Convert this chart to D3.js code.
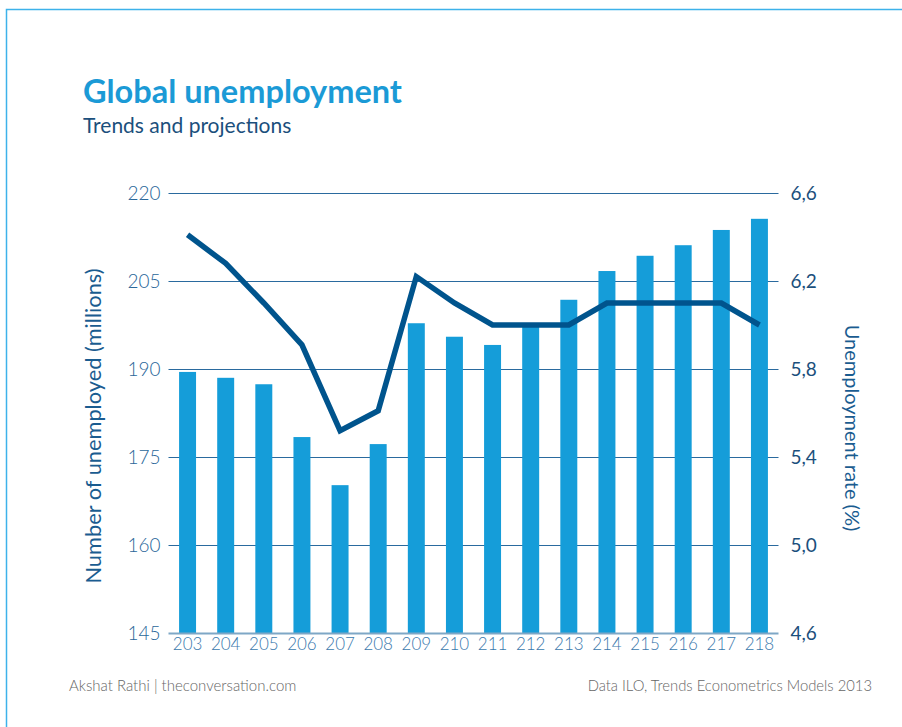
<!DOCTYPE html>
<html>
<head>
<meta charset="utf-8">
<script src="https://cdn.jsdelivr.net/npm/d3@7"></script>
<style>
  html, body { margin: 0; padding: 0; background: #fff; }
  svg { display: block; }
</style>
</head>
<body>
<script>
// ---- Data ----
const categories = ["203","204","205","206","207","208","209","210","211","212","213","214","215","216","217","218"];
const unemployedMillions = [189.5, 188.5, 187.4, 178.4, 170.2, 177.2, 197.8, 195.5, 194.1, 197.5, 201.8, 206.7, 209.3, 211.1, 213.7, 215.6];
const unemploymentRate = [6.41, 6.28, 6.1, 5.91, 5.52, 5.61, 6.22, 6.1, 6.0, 6.0, 6.0, 6.1, 6.1, 6.1, 6.1, 6.0];
const leftTicks = [145, 160, 175, 190, 205, 220];
const rightTicks = [4.6, 5.0, 5.4, 5.8, 6.2, 6.6];

const W = 902, H = 727;
const svg = d3.select("body").append("svg").attr("width", W).attr("height", H);

// frame
svg.append("rect").attr("x", 6.5).attr("y", 9.5).attr("width", 1000).attr("height", 1000)
  .attr("fill", "none").attr("stroke", "#3db2ea").attr("stroke-width", 1.5);

const plotLeft = 168.5, plotRight = 778.5, plotTop = 193, plotBottom = 633;

const x = d3.scaleBand().domain(categories).range([plotLeft, plotRight])
  .paddingInner(0.555).paddingOuter(0.2775);
const yL = d3.scaleLinear().domain([145, 220]).range([plotBottom, plotTop]);
const yR = d3.scaleLinear().domain([4.6, 6.6]).range([plotBottom, plotTop]);

const fontMain = "Lato, 'Open Sans', sans-serif";

// gridlines
svg.append("g").selectAll("line").data(leftTicks.filter(d => d !== 145)).join("line")
  .attr("x1", plotLeft).attr("x2", plotRight)
  .attr("y1", d => Math.round(yL(d)) + 0.5).attr("y2", d => Math.round(yL(d)) + 0.5)
  .attr("stroke", "#2a6a9e").attr("stroke-width", 1.2);

// bars
svg.append("g").selectAll("rect").data(categories).join("rect")
  .attr("x", d => x(d))
  .attr("width", x.bandwidth())
  .attr("y", (d, i) => yL(unemployedMillions[i]))
  .attr("height", (d, i) => yL(145) - yL(unemployedMillions[i]))
  .attr("fill", "#159dd9");

// baseline
svg.append("line").attr("x1", plotLeft).attr("x2", plotRight)
  .attr("y1", plotBottom + 0.5).attr("y2", plotBottom + 0.5)
  .attr("stroke", "#7ea7c6").attr("stroke-width", 2);

// line
const line = d3.line().x((d, i) => x(categories[i]) + x.bandwidth() / 2).y(d => yR(d));
svg.append("path").datum(unemploymentRate).attr("d", line)
  .attr("fill", "none").attr("stroke", "#00548d").attr("stroke-width", 5.5)
  .attr("stroke-linejoin", "miter");

// left axis
const leftAxis = d3.axisLeft(yL).tickValues(leftTicks).tickSize(0).tickPadding(8);
const gL = svg.append("g").attr("transform", `translate(${plotLeft},0)`).call(leftAxis);
gL.select(".domain").remove();
gL.selectAll("text").attr("font-family", fontMain).attr("font-weight", 300)
  .attr("font-size", 19).attr("fill", "#2a679a");

// right axis
const rightAxis = d3.axisRight(yR).tickValues(rightTicks).tickSize(0).tickPadding(12)
  .tickFormat(d => d3.format(".1f")(d).replace(".", ","));
const gR = svg.append("g").attr("transform", `translate(${plotRight},0)`).call(rightAxis);
gR.select(".domain").remove();
gR.selectAll("text").attr("font-family", fontMain).attr("font-weight", 400)
  .attr("font-size", 19).attr("fill", "#1b4f7c");

// bottom axis
const bottomAxis = d3.axisBottom(x).tickSize(0).tickPadding(5);
const gB = svg.append("g").attr("transform", `translate(0,${plotBottom})`).call(bottomAxis);
gB.select(".domain").remove();
gB.selectAll("text").attr("font-family", fontMain).attr("font-weight", 300)
  .attr("font-size", 17).attr("fill", "#3b79ad");

// titles
svg.append("text").attr("x", 83).attr("y", 103).text("Global unemployment")
  .attr("font-family", fontMain).attr("font-weight", 700).attr("font-size", 32.5)
  .attr("fill", "#1b9ad6");
svg.append("text").attr("x", 83).attr("y", 133).text("Trends and projections")
  .attr("font-family", fontMain).attr("font-weight", 400).attr("font-size", 21)
  .attr("fill", "#1b4f7c");

// axis titles
svg.append("text").attr("transform", "translate(101,426) rotate(-90)")
  .attr("text-anchor", "middle").text("Number of unemployed (millions)")
  .attr("font-family", fontMain).attr("font-weight", 400).attr("font-size", 21.8)
  .attr("fill", "#1a5c90");
svg.append("text").attr("transform", "translate(845,428) rotate(90)")
  .attr("text-anchor", "middle").text("Unemployment rate (%)")
  .attr("font-family", fontMain).attr("font-weight", 400).attr("font-size", 20)
  .attr("fill", "#1a5c90");

// footer
svg.append("text").attr("x", 69).attr("y", 691).text("Akshat Rathi | theconversation.com")
  .attr("font-family", fontMain).attr("font-weight", 300).attr("font-size", 15)
  .attr("fill", "#666");
svg.append("text").attr("x", 872).attr("y", 691).attr("text-anchor", "end")
  .text("Data ILO, Trends Econometrics Models 2013")
  .attr("font-family", fontMain).attr("font-weight", 300).attr("font-size", 14.8)
  .attr("fill", "#666");
</script>
</body>
</html>
